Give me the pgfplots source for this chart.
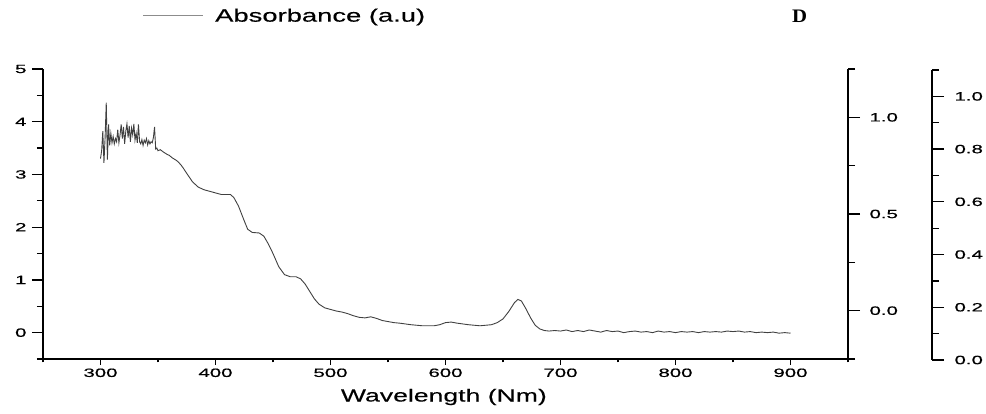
\documentclass[border=0pt]{standalone}
\usepackage{fontspec}
\setmainfont{Liberation Sans}
\newfontfamily\tickfont{Liberation Sans}[FakeStretch=1.7, FakeBold=0.6]
\newfontfamily\labfont{Liberation Sans}[FakeStretch=1.52, FakeBold=0.3]
\newfontfamily\dfont{Liberation Serif}[FakeStretch=1.1]
\usepackage{pgfplots}
\pgfplotsset{compat=1.18}
\pgfplotstableread{
x y
300 3.30
301 3.45
302 3.82
303 3.22
304 3.70
305 4.36
306 3.28
307 3.95
308 3.55
309 3.78
310 3.60
311 3.72
312 3.58
313 3.68
314 3.62
315 3.85
316 3.60
317 3.75
318 3.95
319 3.68
320 3.90
321 3.58
322 3.82
323 3.96
324 3.70
325 3.92
326 3.62
327 3.88
328 3.75
329 3.96
330 3.65
331 3.78
332 3.60
333 3.95
334 3.62
335 3.58
336 3.66
337 3.55
338 3.65
339 3.60
340 3.68
341 3.56
342 3.64
343 3.58
344 3.62
345 3.60
346 3.70
347 3.90
348 3.48
349 3.50
350 3.45
352 3.47
355 3.42
358 3.38
360 3.36
362 3.32
365 3.28
367 3.25
370 3.18
372 3.12
375 3.02
380 2.86
385 2.76
390 2.71
395 2.68
400 2.65
405 2.62
410 2.62
413 2.62
416 2.56
420 2.40
425 2.12
428 1.96
432 1.90
438 1.89
442 1.83
446 1.68
450 1.50
455 1.25
460 1.10
465 1.06
470 1.06
474 1.02
478 0.92
482 0.78
486 0.64
490 0.54
495 0.47
500 0.44
505 0.41
510 0.39
515 0.36
520 0.32
525 0.29
530 0.28
535 0.30
540 0.27
545 0.23
550 0.21
555 0.19
560 0.18
570 0.15
580 0.13
590 0.13
595 0.15
600 0.19
605 0.20
610 0.18
620 0.15
630 0.13
640 0.15
645 0.19
650 0.26
655 0.40
660 0.57
663 0.63
666 0.60
670 0.45
674 0.28
678 0.14
682 0.07
686 0.04
690 0.03
695 0.04
700 0.03
705 0.05
710 0.02
715 0.04
720 0.02
725 0.05
730 0.03
735 0.01
740 0.04
745 0.02
750 0.03
755 0.00
760 0.02
765 0.03
770 0.01
775 0.02
780 0.00
785 0.03
790 0.01
795 0.02
800 0.00
805 0.02
810 0.01
815 0.02
820 0.00
825 0.02
830 0.01
835 0.02
840 0.01
845 0.03
850 0.02
855 0.03
860 0.01
865 0.02
870 0.00
875 0.01
880 0.00
885 0.01
890 -0.01
895 0.00
900 -0.01
}\spectrum
\begin{document}
\begin{tikzpicture}
\useasboundingbox (0,0) rectangle (986pt,414pt);
\pgfplotsset{
  base/.style={scale only axis, width=805pt, height=290pt,
    at={(43pt,55pt)}, anchor=south west,
    /pgf/number format/assume math mode=true,
    tick label style={font=\tickfont\fontsize{12}{12}\selectfont, black},
    axis line style={line width=1.6pt, black},
    major tick style={line width=1.3pt, black},
    minor tick style={line width=1.3pt, black},
    tick align=outside,
    clip=false},
}
% x axis
\begin{axis}[base, xmin=250, xmax=950, ymin=-0.5, ymax=5,
  axis x line*=bottom, hide y axis,
  major tick length=6pt, minor tick length=3.5pt,
  xtick={300,400,500,600,700,800,900},
  minor xtick={250,350,450,550,650,750,850,950},
  xlabel={Wavelength (Nm)},
  xlabel style={font=\labfont\fontsize{17.5}{17.5}\selectfont,
    at={(axis description cs:0.498,-0.131)}, anchor=center}]
\end{axis}
% left y axis with data
\begin{axis}[base, xmin=250, xmax=950, ymin=-0.5, ymax=5,
  axis y line*=left, axis x line*=bottom, hide x axis,
  major tick length=11pt, minor tick length=6pt,
  ytick={0,1,2,3,4,5},
  minor ytick={-0.5,0.5,1.5,2.5,3.5,4.5},
  yticklabel style={xshift=-2pt}]
\addplot[black!75, line width=0.9pt] table[x=x, y=y] {\spectrum};
\end{axis}
% first right axis
\begin{axis}[base, xmin=250, xmax=950, ymin=-0.25, ymax=1.25,
  axis y line*=right, axis x line*=bottom, hide x axis,
  major tick length=12pt, minor tick length=7pt,
  ytick={0,0.5,1},
  minor ytick={-0.25,0.25,0.75,1.25},
  yticklabel style={xshift=6pt, /pgf/number format/.cd, fixed, fixed zerofill, precision=1}]
\end{axis}
% second right axis
\begin{axis}[base, width=10pt, at={(922pt,54pt)}, xmin=0, xmax=1, ymin=0, ymax=1.1,
  axis y line*=right, axis x line*=bottom, hide x axis,
  major tick length=12pt, minor tick length=7pt,
  ytick={0,0.2,0.4,0.6,0.8,1.0},
  minor ytick={0.1,0.3,0.5,0.7,0.9,1.1},
  yticklabel style={xshift=7pt, /pgf/number format/.cd, fixed, fixed zerofill, precision=1}]
\end{axis}
% legend
\draw[black!45, line width=0.8pt] (143pt,399pt) -- (203pt,399pt);
\node[anchor=west, inner sep=0pt, font=\labfont\fontsize{18}{18}\selectfont] at (215pt,397pt) {\resizebox{210pt}{!}{Absorbance (a.u)}};
\node[anchor=center, inner sep=0pt, font=\dfont\bfseries\fontsize{20}{20}\selectfont] at (799.5pt,398pt) {\resizebox{15pt}{12.5pt}{D}};
\end{tikzpicture}
\end{document}
